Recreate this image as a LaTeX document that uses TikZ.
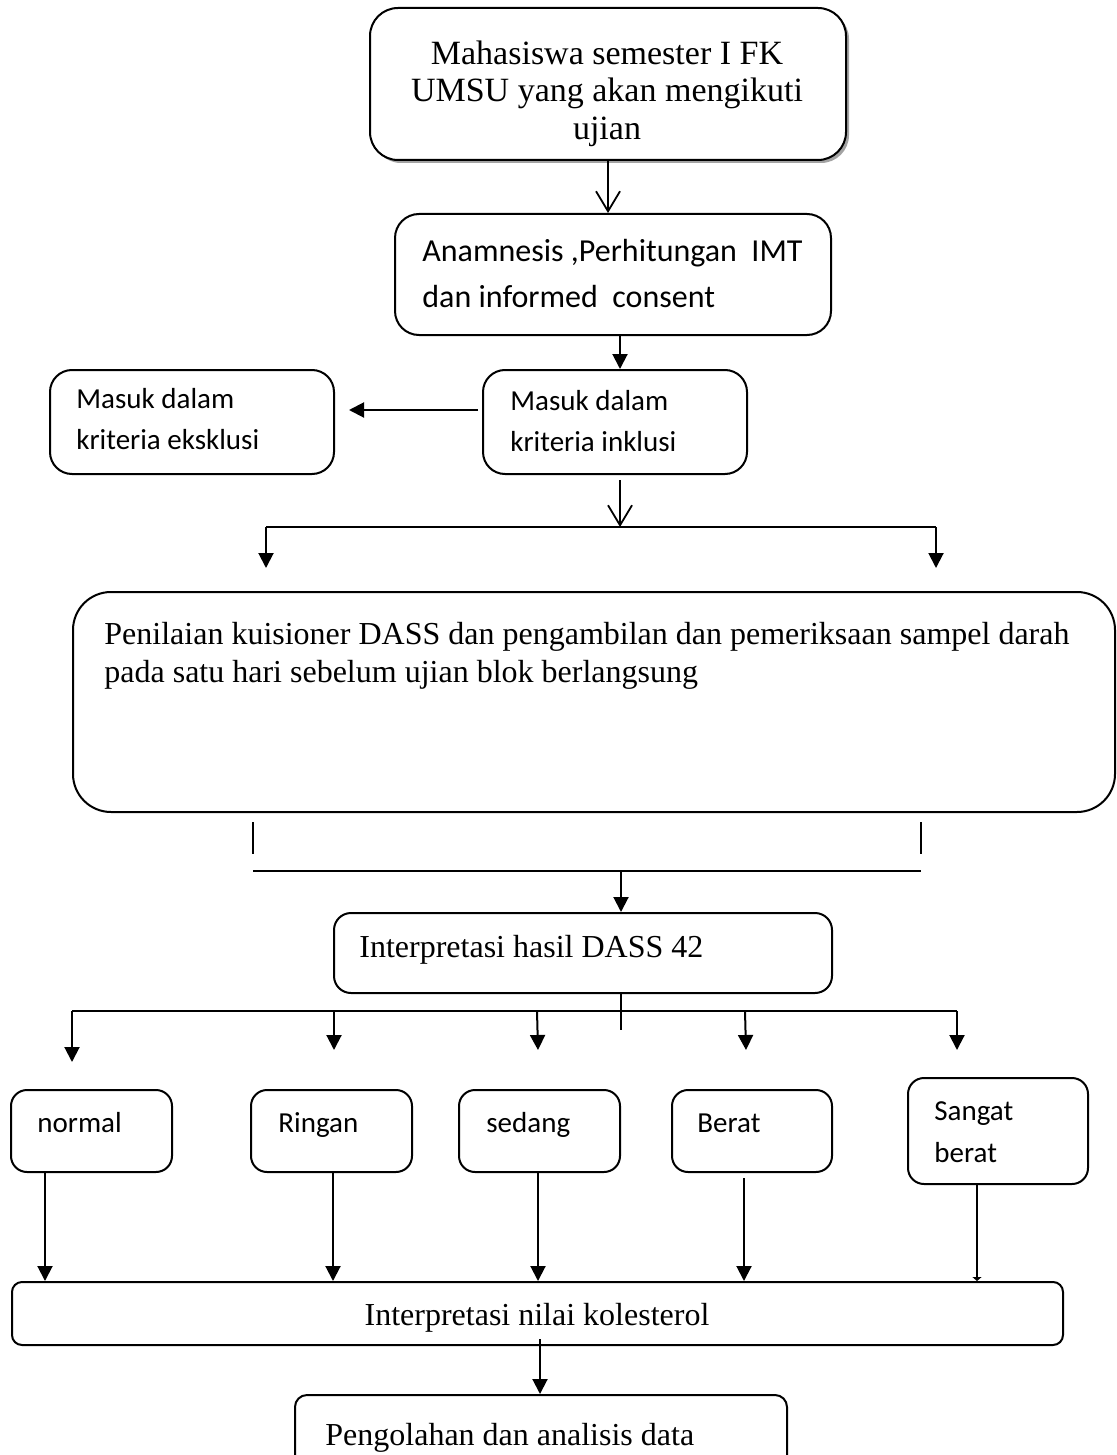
\documentclass[tikz,border=0pt]{standalone}
\usepackage{fontspec}
\setmainfont{Liberation Serif}
\newfontfamily\calibri{Carlito}
\usetikzlibrary{arrows.meta,fit,shadows}
\begin{document}
\begin{tikzpicture}[x=0.5pt,y=-0.5pt,
  rbox/.style={draw, line width=1pt, inner sep=0pt, rounded corners=#1},
  serb/.style={font=\fontsize{17}{20}\selectfont, inner sep=0pt},
  ser/.style={font=\fontsize{16}{19}\selectfont, inner sep=0pt},
  san/.style={font=\calibri\fontsize{16}{19}\selectfont, inner sep=0pt},
  sans/.style={font=\calibri\fontsize{14.5}{17}\selectfont, inner sep=0pt},
  arr/.style={line width=1pt,-{Triangle[length=7.5pt,width=7.5pt]}},
  varr/.style={line width=0.9pt,-{Straight Barb[length=10pt,width=12pt]}},
  ln/.style={line width=1pt}]
\clip (0,0) rectangle (1117,1455);
\fill[white] (0,0) rectangle (1117,1455);

% top box
\node[rbox=14pt, fit={(370,8)(846,160)}, fill=white,
  drop shadow={shadow xshift=1.5pt,shadow yshift=-1.5pt,fill=black!60,opacity=0.6}] (top) {};
\node[serb, anchor=base] (t1a) at (607,65) {Mahasiswa semester I FK};
\node[serb, anchor=base] (t1b) at (607,102) {UMSU yang akan mengikuti};
\node[serb, anchor=base] (t1c) at (607,140) {ujian};

% box 2
\node[rbox=12pt, fit={(395,214)(831,335)}] (b2) {};
\node[san, anchor=base west] (t2a) at (422,262) {Anamnesis ,Perhitungan\ \ IMT};
\node[san, anchor=base west] (t2b) at (422,307) {dan informed\ \ consent};

% inclusion / exclusion
\node[rbox=11pt, fit={(483,370)(747,474)}] (incl) {};
\node[sans, anchor=base west] (t3a) at (510,410) {Masuk dalam};
\node[sans, anchor=base west] (t3b) at (510,451) {kriteria inklusi};
\node[rbox=11pt, fit={(50,370)(334,474)}] (excl) {};
\node[sans, anchor=base west] (t4a) at (76,408) {Masuk dalam};
\node[sans, anchor=base west] (t4b) at (76,449) {kriteria eksklusi};

\draw[varr] (top.south) -- (top.south |- b2.north);
\coordinate (xa) at (620,0);
\draw[arr] (b2.south -| xa) -- (incl.north -| xa);
\draw[arr] ([xshift=-2pt,yshift=6pt]incl.west) -- ([xshift=7pt,yshift=6pt]excl.east);

\coordinate (j1) at (620,527);
\coordinate (j1L) at (266,527);
\coordinate (j1R) at (936,527);
\coordinate (j1Ld) at (266,568);
\coordinate (j1Rd) at (936,568);
\draw[varr] ([yshift=-2.5pt]incl.south -| xa) -- (j1);
\draw[ln] (j1L) -- (j1R);
\draw[arr] (j1L) -- (j1Ld);
\draw[arr] (j1R) -- (j1Rd);

% big box
\node[rbox=19pt, fit={(73,592)(1115,812)}] (dass) {};
\node[ser, anchor=base west] (t5a) at (104,644) {Penilaian kuisioner DASS dan pengambilan dan pemeriksaan sampel darah};
\node[ser, anchor=base west] (t5b) at (104,682) {pada satu hari sebelum ujian blok berlangsung};

\draw[ln] (253,822) -- (253,854);
\draw[ln] (921,822) -- (921,854);
\draw[ln] (253,871) -- (921,871);
\coordinate (j2) at (621,871);

% interpretation DASS
\node[rbox=8.5pt, fit={(334,913)(832,993)}] (interp) {};
\node[ser, anchor=base west] (t6) at (359,957) {Interpretasi hasil DASS 42};
\draw[arr] (j2) -- (interp.north -| j2);
\coordinate (j3) at (621,1030);
\draw[ln] (interp.south -| j3) -- (j3);
\draw[ln] (72,1011) -- (957,1011);
\draw[arr] (72,1011) -- (72,1062);
\draw[arr] (334,1011) -- (334,1050);
\draw[arr] (537,1011) -- (538,1050);
\draw[arr] (745,1011) -- (746,1050);
\draw[arr] (957,1011) -- (957,1050);

% categories
\node[rbox=8pt, fit={(11,1090)(172,1172)}] (cn) {};
\node[sans, anchor=base west] at (37,1132) {normal};
\node[rbox=8pt, fit={(251,1090)(412,1172)}] (cr) {};
\node[sans, anchor=base west] at (278,1132) {Ringan};
\node[rbox=8pt, fit={(459,1090)(620,1172)}] (cd) {};
\node[sans, anchor=base west] at (486,1132) {sedang};
\node[rbox=8pt, fit={(672,1090)(832,1172)}] (cb) {};
\node[sans, anchor=base west] at (697,1132) {Berat};
\node[rbox=8pt, fit={(908,1078)(1088,1184)}] (cs) {};
\node[sans, anchor=base west] at (934,1120) {Sangat};
\node[sans, anchor=base west] at (934,1162) {berat};

% cholesterol
\node[rbox=5pt, fit={(12,1282)(1063,1345)}] (kol) {};
\node[ser, anchor=base] (t7) at (537,1325) {Interpretasi nilai kolesterol};

\coordinate (xn) at (45,0);
\coordinate (xr) at (333,0);
\coordinate (xd) at (538,0);
\coordinate (xb) at (744,0);
\coordinate (xs) at (977,0);
\draw[arr] (cn.south -| xn) -- (kol.north -| xn);
\draw[arr] (cr.south -| xr) -- (kol.north -| xr);
\draw[arr] (cd.south -| xd) -- (kol.north -| xd);
\draw[arr] ([yshift=-2.5pt]cb.south -| xb) -- (kol.north -| xb);
\draw[line width=1pt,-{Triangle[length=2pt,width=4.5pt]}] (cs.south -| xs) -- (kol.north -| xs);

% final
\node[rbox=6pt, fit={(295,1395)(787,1480)}] (peng) {};
\node[ser, anchor=base west] (t8) at (325,1445) {Pengolahan dan analisis data};
\coordinate (xk) at (540,0);
\draw[arr] ([yshift=3.5pt]kol.south -| xk) -- (peng.north -| xk);
\end{tikzpicture}
\end{document}
